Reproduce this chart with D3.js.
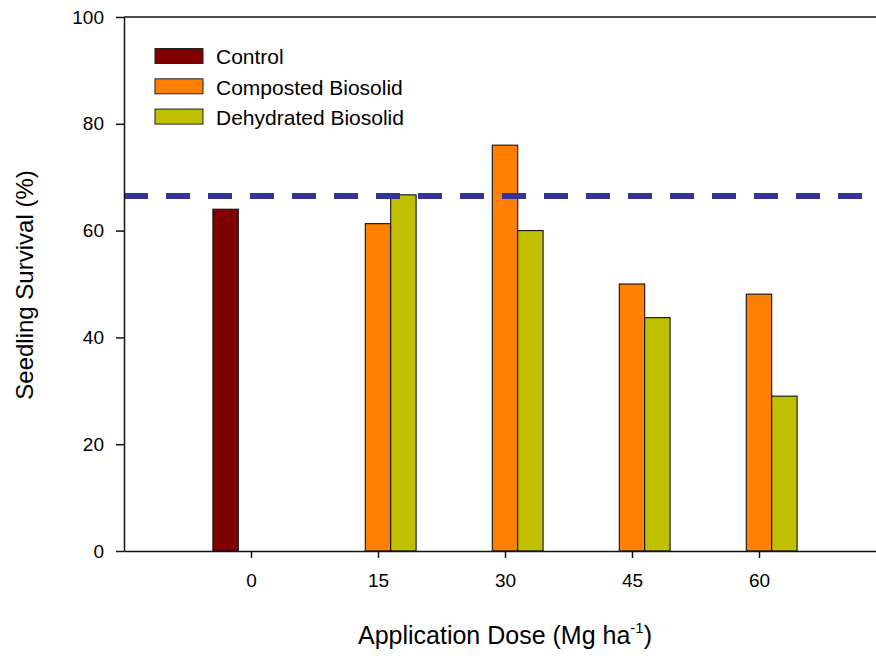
<!DOCTYPE html>
<html>
<head>
<meta charset="utf-8">
<script src="https://cdn.jsdelivr.net/npm/d3@7"></script>
<style>
  html, body { margin: 0; padding: 0; background: #fff; }
  svg { display: block; font-family: "Liberation Sans", Arial, Helvetica, sans-serif; }
</style>
</head>
<body>
<svg id="chart" width="876" height="656"></svg>
<script>
// Seedling survival by biosolid application dose
const doses = [0, 15, 30, 45, 60];
const seriesNames = ["Control", "Composted Biosolid", "Dehydrated Biosolid"];
const controlValues = [64.0, null, null, null, null];
const compostedValues = [null, 61.3, 76.0, 50.0, 48.1];
const dehydratedValues = [null, 66.7, 60.0, 43.7, 29.0];
const referenceLevel = 66.5;
const xTickValues = [0, 15, 30, 45, 60];
const yTickValues = [0, 20, 40, 60, 80, 100];
const seriesColors = ["#800000", "#FF8000", "#C0C000"];

const seriesValues = [controlValues, compostedValues, dehydratedValues];

const svg = d3.select("#chart");
const plotLeft = 124, plotRight = 886, plotTop = 17, plotBottom = 551;

const x = d3.scaleLinear().domain([-15, 75]).range([plotLeft, plotRight]);
const y = d3.scaleLinear().domain([0, 100]).range([plotBottom, plotTop]);

// each dose gets three slots of 3 units; the middle slot sits on the tick
const slotUnits = 3;
const slotW = x(slotUnits) - x(0);
const sub = d3.scaleBand().domain(seriesNames).range([-1.5 * slotW, 1.5 * slotW]).padding(0);

// bars
const barRows = [];
seriesNames.forEach((name, si) => {
  doses.forEach((dose, di) => {
    const v = seriesValues[si][di];
    if (v != null) barRows.push({ name, si, dose, v });
  });
});

svg.append("g").selectAll("rect")
  .data(barRows)
  .join("rect")
  .attr("x", d => x(d.dose) + sub(d.name))
  .attr("y", d => y(d.v))
  .attr("width", sub.bandwidth())
  .attr("height", d => y(0) - y(d.v))
  .attr("fill", d => seriesColors[d.si])
  .attr("stroke", "#111")
  .attr("stroke-width", 1.1);

// dashed reference line
svg.append("line")
  .attr("x1", x(-15)).attr("x2", plotRight)
  .attr("y1", y(referenceLevel)).attr("y2", y(referenceLevel))
  .attr("stroke", "#333399")
  .attr("stroke-width", 6)
  .attr("stroke-dasharray", "24 18");

// top frame line
svg.append("line")
  .attr("x1", plotLeft).attr("x2", plotRight)
  .attr("y1", plotTop).attr("y2", plotTop)
  .attr("stroke", "#111").attr("stroke-width", 1.5);

// axes
const yAxis = d3.axisLeft(y).tickValues(yTickValues).tickSize(8).tickPadding(12).tickSizeOuter(0);
const gy = svg.append("g").attr("transform", `translate(${plotLeft},0)`).call(yAxis);
gy.selectAll("text").attr("font-size", 19).attr("fill", "#000").attr("font-family", "Liberation Sans, Arial, sans-serif");
gy.selectAll("line").attr("stroke", "#111").attr("stroke-width", 1.5);
gy.select(".domain").attr("stroke", "#111").attr("stroke-width", 1.5);

const xAxis = d3.axisBottom(x).tickValues(xTickValues).tickSize(7).tickPadding(16).tickSizeOuter(0);
const gx = svg.append("g").attr("transform", `translate(0,${plotBottom})`).call(xAxis);
gx.selectAll("text").attr("font-size", 19).attr("fill", "#000").attr("font-family", "Liberation Sans, Arial, sans-serif");
gx.selectAll("line").attr("stroke", "#111").attr("stroke-width", 1.5);
gx.select(".domain").attr("stroke", "#111").attr("stroke-width", 1.5);

// axis titles
svg.append("text")
  .attr("transform", "translate(33,285) rotate(-90)")
  .attr("text-anchor", "middle")
  .attr("font-size", 24)
  .text("Seedling Survival (%)");

const xt = svg.append("text")
  .attr("x", 505).attr("y", 644)
  .attr("text-anchor", "middle")
  .attr("font-size", 25);
xt.append("tspan").text("Application Dose (Mg ha");
xt.append("tspan").attr("font-size", 15).attr("dy", -11).text("-1");
xt.append("tspan").attr("dy", 11).text(")");

// legend
const legend = svg.append("g").selectAll("g")
  .data(seriesNames)
  .join("g")
  .attr("transform", (d, i) => `translate(155,${48.5 + i * 30.3})`);
legend.append("rect")
  .attr("width", 48).attr("height", 15)
  .attr("fill", (d, i) => seriesColors[i])
  .attr("stroke", "#222").attr("stroke-width", 1);
legend.append("text")
  .attr("x", 61).attr("y", 15.8)
  .attr("font-size", 21)
  .text(d => d);
</script>
</body>
</html>
